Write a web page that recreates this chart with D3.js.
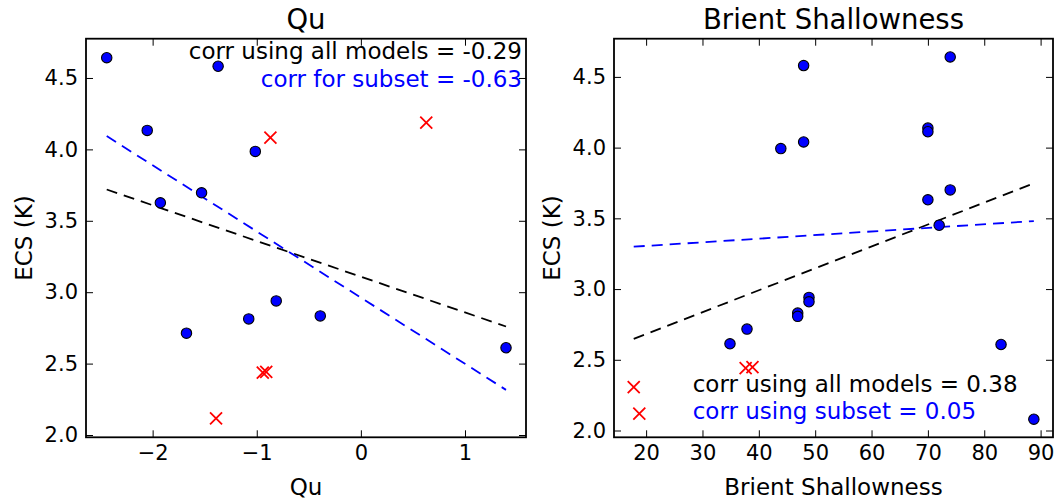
<!DOCTYPE html>
<html>
<head>
<meta charset="utf-8">
<script src="https://cdn.jsdelivr.net/npm/d3@7"></script>
<style>
    body { margin: 0; background: #fff; }
    text { font-family: "DejaVu Sans", sans-serif; }
</style>
</head>
<body>
<div id="chart"></div>
<script>
// Qu panel: [Qu, ECS]
var quSubset = [[-2.441, 4.642], [-2.052, 4.133], [-1.926, 3.626], [-1.371, 4.582], [-1.530, 3.696],
    [-1.014, 3.986], [-1.675, 2.713], [-1.077, 2.813], [-0.813, 2.939], [-0.390, 2.834], [1.394, 2.611]];
var quOthers = [[-0.869, 4.082], [0.628, 4.187], [-0.942, 2.437], [-0.909, 2.442], [-1.391, 2.117]];
// [slope, intercept] for all models, then subset
var quFits = [[-0.2501, 3.1085], [-0.4634, 2.962]];
var quCorr = ["corr using all models = -0.29", "corr for subset = -0.63"];

// Brient shallowness panel: [shallowness, ECS]
var brSubset = [[43.9, 3.993], [47.95, 4.040], [47.95, 4.580], [70.0, 4.138], [70.0, 4.112], [73.96, 4.641],
    [70.0, 3.631], [73.96, 3.701], [72.0, 3.451], [34.88, 2.613], [37.9, 2.717], [46.9, 2.830], [46.9, 2.807],
    [48.9, 2.941], [48.9, 2.910], [82.98, 2.608], [88.8, 2.080]];
var brOthers = [[37.66, 2.441], [38.87, 2.448], [17.8, 2.307], [18.79, 2.120]];
var brFits = [[0.01549, 2.372], [0.002552, 3.254]];
var brCorr = ["corr using all models = 0.38", "corr using subset = 0.05"];

var ecsTicks = [2.0, 2.5, 3.0, 3.5, 4.0, 4.5];
var quTicks = [-2, -1, 0, 1];
var brTicks = [20, 30, 40, 50, 60, 70, 80, 90];

var attrs = {
    width: 1061,
    height: 504,
    top: 38.7,
    bottom: 437.3,
    tickLen: 7,
    colors: { subset: "#0000ff", others: "#ff0000", all: "#000000" }
};

var svg = d3.select("#chart").append("svg")
    .attr("width", attrs.width)
    .attr("height", attrs.height)
    .style("background", "#fff");

function panel(cfg) {
    var x = d3.scaleLinear().domain(cfg.xDomain).range([cfg.left, cfg.right]);
    var y = d3.scaleLinear().domain(cfg.yDomain).range([attrs.bottom, attrs.top]);
    var g = svg.append("g");

    // ticks on all four sides, pointing inward
    var axes = [
        [d3.axisBottom(x).tickValues(cfg.xTicks).tickFormat(d3.format("d")), attrs.bottom, 0],
        [d3.axisTop(x).tickValues(cfg.xTicks).tickFormat(""), attrs.top, 0],
        [d3.axisLeft(y).tickValues(ecsTicks).tickFormat(d3.format(".1f")), 0, cfg.left],
        [d3.axisRight(y).tickValues(ecsTicks).tickFormat(""), 0, cfg.right]
    ];
    axes.forEach(function(a) {
        var ax = g.append("g")
            .attr("transform", "translate(" + a[2] + "," + a[1] + ")")
            .call(a[0].tickSize(-attrs.tickLen).tickPadding(8));
        ax.select(".domain").remove();
        ax.selectAll("line").attr("stroke", "#000").attr("stroke-width", 1);
        ax.selectAll("text")
            .attr("fill", "#000")
            .style("font-size", "21px")
            .style("font-family", "DejaVu Sans");
    });

    // regression lines over the data range
    var allPts = cfg.subset.concat(cfg.others);
    var xr = d3.extent(allPts, function(d) { return d[0]; });
    var fitColors = [attrs.colors.all, attrs.colors.subset];
    g.selectAll(".fit").data(cfg.fits).enter()
        .append("line")
        .attr("class", "fit")
        .attr("x1", x(xr[0]))
        .attr("x2", x(xr[1]))
        .attr("y1", function(d) { return y(d[1] + d[0] * xr[0]); })
        .attr("y2", function(d) { return y(d[1] + d[0] * xr[1]); })
        .attr("stroke", function(d, i) { return fitColors[i]; })
        .attr("stroke-width", 1.8)
        .attr("stroke-dasharray", "11,7");

    g.selectAll(".other").data(cfg.others).enter()
        .append("path")
        .attr("class", "other")
        .attr("transform", function(d) { return "translate(" + x(d[0]) + "," + y(d[1]) + ")"; })
        .attr("d", "M-6,-6L6,6M-6,6L6,-6")
        .attr("stroke", attrs.colors.others)
        .attr("stroke-width", 1.8)
        .attr("fill", "none");

    g.selectAll(".pt").data(cfg.subset).enter()
        .append("circle")
        .attr("class", "pt")
        .attr("cx", function(d) { return x(d[0]); })
        .attr("cy", function(d) { return y(d[1]); })
        .attr("r", 5.2)
        .attr("fill", attrs.colors.subset)
        .attr("stroke", "#000")
        .attr("stroke-width", 1.1);

    // frame
    g.append("rect")
        .attr("x", cfg.left)
        .attr("y", attrs.top)
        .attr("width", cfg.right - cfg.left)
        .attr("height", attrs.bottom - attrs.top)
        .attr("fill", "none")
        .attr("stroke", "#000")
        .attr("stroke-width", 1.8);

    var cx = (cfg.left + cfg.right) / 2;
    g.append("text")
        .attr("x", cx).attr("y", 29)
        .attr("text-anchor", "middle")
        .style("font-size", "27.5px")
        .text(cfg.title);
    g.append("text")
        .attr("x", cx).attr("y", 495)
        .attr("text-anchor", "middle")
        .style("font-size", "23px")
        .text(cfg.title);
    g.append("text")
        .attr("transform", "translate(" + (cfg.left - 54.3) + "," + ((attrs.top + attrs.bottom) / 2) + ") rotate(-90)")
        .attr("text-anchor", "middle")
        .style("font-size", "23px")
        .text("ECS (K)");

    g.selectAll(".corr").data(cfg.corr).enter()
        .append("text")
        .attr("class", "corr")
        .attr("x", cfg.corrX)
        .attr("y", function(d, i) { return cfg.corrY + i * 27.6; })
        .attr("text-anchor", cfg.corrAnchor)
        .attr("fill", function(d, i) { return fitColors[i]; })
        .style("font-size", "23px")
        .text(function(d) { return d; });
}

panel({
    title: "Qu", left: 86, right: 526,
    xDomain: [-2.64, 1.586], yDomain: [1.984, 4.775], xTicks: quTicks,
    subset: quSubset, others: quOthers, fits: quFits,
    corr: quCorr, corrX: 522, corrY: 59.3, corrAnchor: "end"
});
panel({
    title: "Brient Shallowness", left: 614, right: 1053,
    xDomain: [14.3, 92.2], yDomain: [1.952, 4.77], xTicks: brTicks,
    subset: brSubset, others: brOthers, fits: brFits,
    corr: brCorr, corrX: 692.7, corrY: 391.7, corrAnchor: "start"
});
</script>
</body>
</html>
